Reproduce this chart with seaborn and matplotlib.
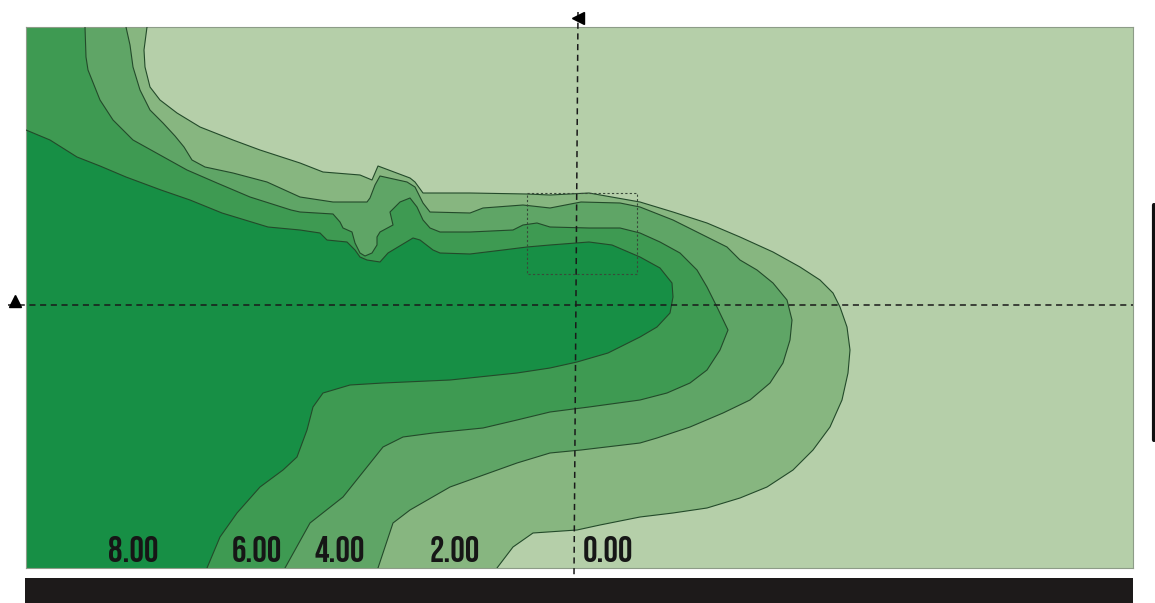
import matplotlib
matplotlib.use("Agg")
import matplotlib.pyplot as plt
import seaborn as sns

# contour boundaries (image pixel units, y grows downward)
# level 8.00 / 6.00 boundary
c8_x = [26, 50, 77, 100, 126, 161, 190, 222, 268, 300, 320, 327, 347, 355, 360, 367, 380, 388, 393, 413, 420, 433, 440, 470, 503, 527, 550, 589, 612, 640, 660, 672, 673, 670, 657, 640, 608, 577, 550, 517, 450, 383, 350, 323, 313, 307, 297, 283, 260, 237, 220, 207]
c8_y = [130, 140, 157, 166, 177, 190, 200, 213, 227, 230, 233, 240, 242, 250, 257, 260, 262, 253, 250, 238, 240, 250, 253, 254, 250, 247, 245, 242, 245, 257, 268, 283, 297, 313, 327, 337, 353, 362, 368, 373, 380, 383, 385, 393, 407, 430, 457, 470, 487, 513, 537, 568]
# level 6.00 / 4.00 boundary
c6_x = [85, 86, 88, 100, 113, 133, 160, 187, 217, 250, 291, 300, 333, 340, 343, 352, 355, 360, 365, 372, 377, 377, 380, 393, 390, 400, 410, 417, 423, 430, 440, 470, 513, 523, 537, 550, 589, 620, 640, 660, 680, 697, 707, 717, 728, 720, 707, 690, 667, 640, 589, 550, 517, 483, 433, 403, 383, 367, 343, 310, 285]
c6_y = [27, 57, 70, 100, 120, 140, 155, 170, 183, 197, 210, 212, 214, 222, 228, 232, 243, 253, 256, 253, 245, 237, 232, 225, 212, 202, 198, 207, 220, 228, 232, 232, 230, 225, 223, 227, 228, 228, 233, 242, 253, 270, 287, 307, 330, 350, 370, 383, 393, 400, 407, 412, 420, 428, 433, 437, 447, 467, 497, 523, 568]
# level 4.00 / 2.00 boundary
c4_x = [126, 130, 133, 140, 150, 163, 175, 184, 192, 205, 233, 267, 300, 333, 367, 370, 375, 380, 407, 415, 423, 430, 470, 483, 523, 550, 581, 620, 640, 673, 707, 727, 740, 757, 773, 787, 792, 790, 783, 770, 750, 723, 690, 657, 640, 581, 550, 517, 450, 410, 393, 378]
c4_y = [27, 45, 67, 90, 110, 123, 136, 147, 160, 167, 173, 182, 197, 202, 202, 198, 185, 176, 182, 187, 203, 212, 213, 208, 205, 208, 202, 203, 207, 220, 237, 247, 260, 270, 283, 300, 320, 340, 363, 383, 400, 413, 427, 438, 443, 450, 453, 463, 487, 510, 523, 568]
# level 2.00 / 0.00 boundary
c2_x = [147, 144, 145, 150, 160, 177, 200, 233, 260, 300, 323, 360, 372, 378, 410, 415, 423, 440, 470, 527, 550, 589, 640, 673, 707, 740, 773, 800, 820, 833, 840, 847, 850, 848, 842, 830, 813, 793, 767, 740, 707, 673, 640, 600, 577, 533, 513, 497]
c2_y = [27, 50, 67, 87, 100, 113, 127, 140, 150, 163, 172, 175, 180, 166, 178, 182, 193, 193, 193, 194, 195, 193, 202, 212, 223, 237, 252, 267, 280, 293, 307, 327, 350, 373, 400, 427, 450, 470, 487, 498, 508, 513, 517, 525, 530, 533, 547, 568]

level_labels = ["8.00", "6.00", "4.00", "2.00", "0.00"]
label_x = [133, 257, 340, 455, 583]
level_colors = ["#178f45", "#3e9a52", "#5fa566", "#87b680", "#b5cfa9"]

# crosshair / probe window
cross_x = 577
cross_y = 305
probe_box = (527, 193, 637, 274)

sns.set_theme(style="white")

x0, x1, y0, y1 = 26, 1133, 27, 568
fig = plt.figure(figsize=(11.55, 6.03), dpi=100)
ax = fig.add_axes([x0 / 1155, 1 - y1 / 603, (x1 - x0) / 1155, (y1 - y0) / 603])
ax.set_xlim(x0, x1)
ax.set_ylim(y1, y0)

# background = lowest level
ax.set_facecolor(level_colors[4])

# fill each level region: boundary plus the plot corners on the dark side
bounds = [(c2_x, c2_y), (c4_x, c4_y), (c6_x, c6_y), (c8_x, c8_y)]
fill_cols = [level_colors[3], level_colors[2], level_colors[1], level_colors[0]]
for (bx, by), col in zip(bounds, fill_cols):
    px = list(bx) + [x0]
    py = list(by) + [y1]
    if by[0] == y0:  # starts at the top edge -> include top-left corner
        px = px + [x0]
        py = py + [y0]
    ax.fill(px, py, color=col, lw=0, zorder=1)

for bx, by in bounds:
    sns.lineplot(x=bx, y=by, sort=False, estimator=None, color="#234a2a",
                 lw=0.8, ax=ax, zorder=3)

# crosshair and probe box
ax.plot([8, x1], [cross_y, cross_y], ls=(0, (4, 3)), color="#1a1a1a", lw=1.1,
        clip_on=False, zorder=4)
ax.plot([cross_x + 1, cross_x - 3], [12, 576], ls=(0, (4, 3)), color="#1a1a1a",
        lw=1.1, clip_on=False, zorder=4)
bx0, by0, bx1, by1 = probe_box
ax.plot([bx0, bx1, bx1, bx0, bx0], [by0, by0, by1, by1, by0], ls=(0, (2, 2)),
        color="#3a4a3a", lw=0.8, zorder=4)
ax.plot([cross_x + 1], [18], marker="<", ms=9, color="black", clip_on=False, zorder=5)
ax.plot([15], [cross_y - 4], marker="^", ms=9, color="black", clip_on=False, zorder=5)

for lab, lx in zip(level_labels, label_x):
    ax.text(lx, 549, lab, ha="center" if lab != "0.00" else "left", va="center",
            fontsize=26, color="#161616",
            family=["Bebas Neue", "Anton", "DejaVu Sans"], zorder=6)

# black strip under the chart and bar cut off at the right edge
ax.fill([25, x1, x1, 25], [578, 578, 603, 603], color="#1d1a1a", lw=0,
        clip_on=False, zorder=5)
ax.plot([1154, 1154], [205, 440], color="#111111", lw=3, clip_on=False, zorder=5)

ax.set_xticks([])
ax.set_yticks([])
for s in ax.spines.values():
    s.set_color("#8d9c88")
    s.set_linewidth(0.8)

fig.savefig("out.png", dpi=100, facecolor="white")
